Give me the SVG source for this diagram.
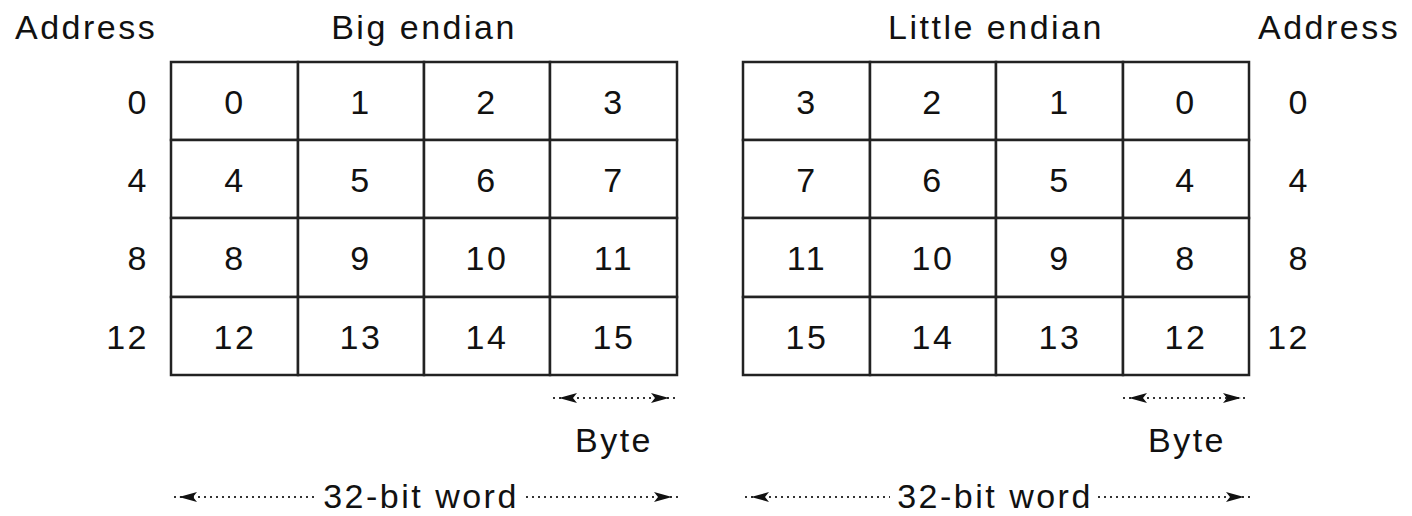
<svg xmlns="http://www.w3.org/2000/svg" width="1412" height="516" viewBox="0 0 1412 516">
<style>
text{font-family:"Liberation Sans",Arial,sans-serif;font-size:34px;fill:#111;letter-spacing:2.5px}
.c{text-anchor:middle}
.r{text-anchor:end}
.cell{fill:#fff;stroke:#222;stroke-width:2.5}
.dim{stroke:#333;stroke-width:2;stroke-dasharray:2 4;fill:none}
.head{stroke:none;fill:none}
</style>
<defs>
<marker id="ah" viewBox="0 0 18 12" refX="17" refY="6" markerWidth="18" markerHeight="12" markerUnits="userSpaceOnUse" orient="auto-start-reverse">
<path d="M0,1 L18,6 L0,11 L4,6 Z" fill="#111"/>
</marker>
</defs>
<rect width="1412" height="516" fill="#fff"/>
<g id="labels">
<text x="15" y="39">Address</text>
<text class="c" x="424" y="39">Big endian</text>
<text class="c" x="996" y="39">Little endian</text>
<text x="1258" y="39">Address</text>
<text class="r" x="149" y="114">0</text>
<text class="r" x="149" y="192">4</text>
<text class="r" x="149" y="270">8</text>
<text class="r" x="149" y="349">12</text>
<text class="r" x="1310" y="114">0</text>
<text class="r" x="1310" y="192">4</text>
<text class="r" x="1310" y="270">8</text>
<text class="r" x="1310" y="349">12</text>
</g>
<g id="big-endian">
<g id="be-0"><rect class="cell" x="171" y="62" width="127" height="78"/><text class="c" x="235" y="114">0</text></g>
<g id="be-1"><rect class="cell" x="298" y="62" width="126" height="78"/><text class="c" x="361" y="114">1</text></g>
<g id="be-2"><rect class="cell" x="424" y="62" width="126" height="78"/><text class="c" x="487" y="114">2</text></g>
<g id="be-3"><rect class="cell" x="550" y="62" width="127" height="78"/><text class="c" x="614" y="114">3</text></g>
<g id="be-4"><rect class="cell" x="171" y="140" width="127" height="78"/><text class="c" x="235" y="192">4</text></g>
<g id="be-5"><rect class="cell" x="298" y="140" width="126" height="78"/><text class="c" x="361" y="192">5</text></g>
<g id="be-6"><rect class="cell" x="424" y="140" width="126" height="78"/><text class="c" x="487" y="192">6</text></g>
<g id="be-7"><rect class="cell" x="550" y="140" width="127" height="78"/><text class="c" x="614" y="192">7</text></g>
<g id="be-8"><rect class="cell" x="171" y="218" width="127" height="79"/><text class="c" x="235" y="270">8</text></g>
<g id="be-9"><rect class="cell" x="298" y="218" width="126" height="79"/><text class="c" x="361" y="270">9</text></g>
<g id="be-10"><rect class="cell" x="424" y="218" width="126" height="79"/><text class="c" x="487" y="270">10</text></g>
<g id="be-11"><rect class="cell" x="550" y="218" width="127" height="79"/><text class="c" x="614" y="270">11</text></g>
<g id="be-12"><rect class="cell" x="171" y="297" width="127" height="78"/><text class="c" x="235" y="349">12</text></g>
<g id="be-13"><rect class="cell" x="298" y="297" width="126" height="78"/><text class="c" x="361" y="349">13</text></g>
<g id="be-14"><rect class="cell" x="424" y="297" width="126" height="78"/><text class="c" x="487" y="349">14</text></g>
<g id="be-15"><rect class="cell" x="550" y="297" width="127" height="78"/><text class="c" x="614" y="349">15</text></g>
</g>
<g id="little-endian">
<g id="le-3"><rect class="cell" x="743" y="62" width="127" height="78"/><text class="c" x="807" y="114">3</text></g>
<g id="le-2"><rect class="cell" x="870" y="62" width="126" height="78"/><text class="c" x="933" y="114">2</text></g>
<g id="le-1"><rect class="cell" x="996" y="62" width="127" height="78"/><text class="c" x="1060" y="114">1</text></g>
<g id="le-0"><rect class="cell" x="1123" y="62" width="126" height="78"/><text class="c" x="1186" y="114">0</text></g>
<g id="le-7"><rect class="cell" x="743" y="140" width="127" height="78"/><text class="c" x="807" y="192">7</text></g>
<g id="le-6"><rect class="cell" x="870" y="140" width="126" height="78"/><text class="c" x="933" y="192">6</text></g>
<g id="le-5"><rect class="cell" x="996" y="140" width="127" height="78"/><text class="c" x="1060" y="192">5</text></g>
<g id="le-4"><rect class="cell" x="1123" y="140" width="126" height="78"/><text class="c" x="1186" y="192">4</text></g>
<g id="le-11"><rect class="cell" x="743" y="218" width="127" height="79"/><text class="c" x="807" y="270">11</text></g>
<g id="le-10"><rect class="cell" x="870" y="218" width="126" height="79"/><text class="c" x="933" y="270">10</text></g>
<g id="le-9"><rect class="cell" x="996" y="218" width="127" height="79"/><text class="c" x="1060" y="270">9</text></g>
<g id="le-8"><rect class="cell" x="1123" y="218" width="126" height="79"/><text class="c" x="1186" y="270">8</text></g>
<g id="le-15"><rect class="cell" x="743" y="297" width="127" height="78"/><text class="c" x="807" y="349">15</text></g>
<g id="le-14"><rect class="cell" x="870" y="297" width="126" height="78"/><text class="c" x="933" y="349">14</text></g>
<g id="le-13"><rect class="cell" x="996" y="297" width="127" height="78"/><text class="c" x="1060" y="349">13</text></g>
<g id="le-12"><rect class="cell" x="1123" y="297" width="126" height="78"/><text class="c" x="1186" y="349">12</text></g>
</g>
<g id="connectors">
<line class="dim" x1="553" y1="398" x2="677" y2="398"/>
<line class="head" x1="560" y1="398" x2="668" y2="398" marker-start="url(#ah)" marker-end="url(#ah)"/>
<line class="dim" x1="1123" y1="398" x2="1248" y2="398"/>
<line class="head" x1="1130" y1="398" x2="1240" y2="398" marker-start="url(#ah)" marker-end="url(#ah)"/>
<line class="dim" x1="174" y1="497" x2="316" y2="497"/>
<line class="head" x1="180" y1="497" x2="300" y2="497" marker-start="url(#ah)"/>
<line class="dim" x1="526" y1="497" x2="678" y2="497"/>
<line class="head" x1="540" y1="497" x2="671" y2="497" marker-end="url(#ah)"/>
<line class="dim" x1="745" y1="497" x2="890" y2="497"/>
<line class="head" x1="752" y1="497" x2="880" y2="497" marker-start="url(#ah)"/>
<line class="dim" x1="1098" y1="497" x2="1250" y2="497"/>
<line class="head" x1="1110" y1="497" x2="1243" y2="497" marker-end="url(#ah)"/>
</g>
<g id="dim-labels">
<text class="c" x="614" y="452">Byte</text>
<text class="c" x="1187" y="452">Byte</text>
<text class="c" x="421" y="508">32-bit word</text>
<text class="c" x="995" y="508">32-bit word</text>
</g>
</svg>
